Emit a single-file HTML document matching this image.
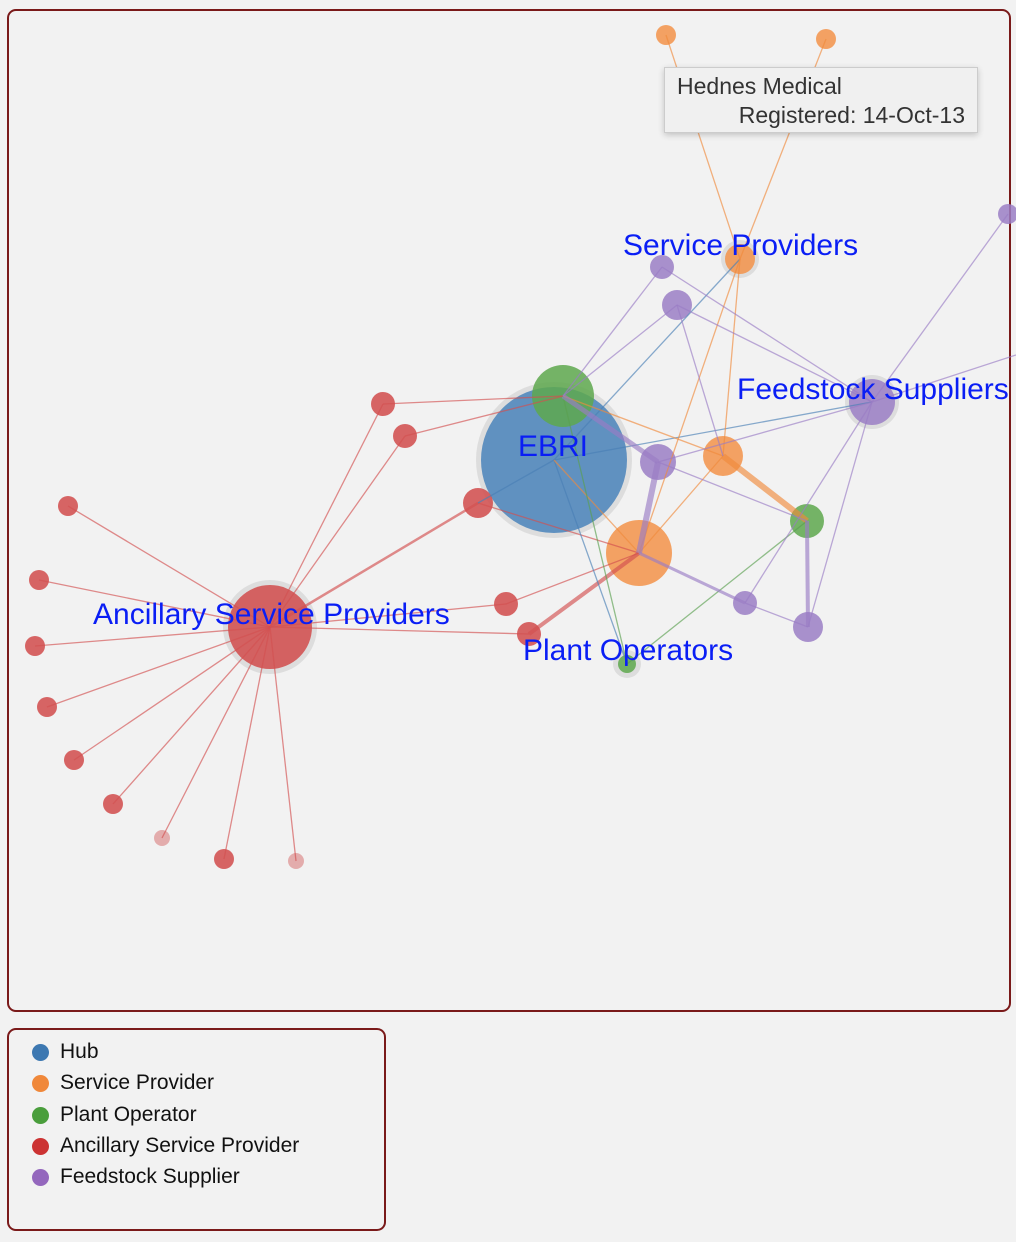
<!DOCTYPE html>
<html><head><meta charset="utf-8"><style>
body{margin:0;background:#f2f2f2;width:1016px;height:1242px;overflow:hidden;font-family:"Liberation Sans",sans-serif}
.box{position:absolute;border:2px solid #7a1a1a;border-radius:9px;box-sizing:border-box}
.tip{position:absolute;left:664px;top:67px;width:314px;height:66px;background:#f0f0f0;border:1px solid #ccc;box-shadow:0 2px 6px rgba(0,0,0,.2);font-size:23px;color:#333;box-sizing:border-box}
.leg{position:absolute;left:32px;font-size:21px;color:#111}
.leg i{position:absolute;left:0;top:3px;width:17px;height:17px;border-radius:50%}
.leg span{position:absolute;left:28px;top:-1px;white-space:nowrap}
</style></head><body>
<div class="box" style="left:7px;top:9px;width:1004px;height:1003px"></div>
<svg width="1016" height="1242" style="position:absolute;left:0;top:0">
<g fill="#ddd"><circle cx="554" cy="460" r="78"/><circle cx="270" cy="627" r="47"/><circle cx="872" cy="402" r="27"/><circle cx="740" cy="259" r="19"/><circle cx="627" cy="664" r="14"/></g>
<g fill-opacity="0.85">
<circle cx="554" cy="460" r="73" fill="#4a84bb"/>
<circle cx="563" cy="396" r="31" fill="#5ea84e"/>
<circle cx="639" cy="553" r="33" fill="#f3934a"/>
<circle cx="723" cy="456" r="20" fill="#f3934a"/>
<circle cx="740" cy="259" r="15" fill="#f3934a"/>
<circle cx="666" cy="35" r="10" fill="#f3934a"/><circle cx="826" cy="39" r="10" fill="#f3934a"/>
<circle cx="807" cy="521" r="17" fill="#5ea84e"/><circle cx="627" cy="664" r="9" fill="#5ea84e"/>
<g fill="#9b7fc6"><circle cx="658" cy="462" r="18"/><circle cx="872" cy="402" r="23"/><circle cx="677" cy="305" r="15"/><circle cx="662" cy="267" r="12"/><circle cx="745" cy="603" r="12"/><circle cx="808" cy="627" r="15"/><circle cx="1008" cy="214" r="10"/></g>
<g fill="#d14b4b"><circle cx="270" cy="627" r="42"/><circle cx="478" cy="503" r="15"/><circle cx="506" cy="604" r="12"/><circle cx="529" cy="634" r="12"/><circle cx="383" cy="404" r="12"/><circle cx="405" cy="436" r="12"/><circle cx="68" cy="506" r="10"/><circle cx="39" cy="580" r="10"/><circle cx="35" cy="646" r="10"/><circle cx="47" cy="707" r="10"/><circle cx="74" cy="760" r="10"/><circle cx="113" cy="804" r="10"/><circle cx="224" cy="859" r="10"/></g>
<g fill="#e0a0a0"><circle cx="162" cy="838" r="8"/><circle cx="296" cy="861" r="8"/></g>
</g>
<g fill="none" stroke-opacity="0.65">
<g stroke="#d35050" stroke-width="1.3">
<line x1="270" y1="627" x2="383" y2="404"/><line x1="270" y1="627" x2="405" y2="436"/><line x1="270" y1="627" x2="68" y2="506"/><line x1="270" y1="627" x2="39" y2="580"/><line x1="270" y1="627" x2="35" y2="646"/><line x1="270" y1="627" x2="47" y2="707"/><line x1="270" y1="627" x2="74" y2="760"/><line x1="270" y1="627" x2="113" y2="804"/><line x1="270" y1="627" x2="162" y2="838"/><line x1="270" y1="627" x2="224" y2="859"/><line x1="270" y1="627" x2="296" y2="861"/>
<line x1="270" y1="627" x2="478" y2="503" stroke-width="2.5"/><line x1="270" y1="627" x2="529" y2="634"/><line x1="270" y1="627" x2="506" y2="604"/>
<line x1="383" y1="404" x2="563" y2="396"/><line x1="405" y1="436" x2="563" y2="396"/><line x1="506" y1="604" x2="639" y2="553"/><line x1="529" y1="634" x2="639" y2="553" stroke-width="4"/><line x1="478" y1="503" x2="639" y2="553"/>
</g>
<g stroke="#4a7fb5" stroke-width="1.3">
<line x1="554" y1="460" x2="740" y2="259"/><line x1="554" y1="460" x2="872" y2="402"/><line x1="554" y1="460" x2="627" y2="664"/><line x1="554" y1="460" x2="478" y2="503"/>
</g>
<g stroke="#f08a3c" stroke-width="1.3">
<line x1="740" y1="259" x2="666" y2="35"/><line x1="740" y1="259" x2="826" y2="39"/><line x1="740" y1="259" x2="639" y2="553"/><line x1="740" y1="259" x2="723" y2="456"/>
<line x1="563" y1="396" x2="723" y2="456"/><line x1="723" y1="456" x2="639" y2="553"/><line x1="723" y1="456" x2="807" y2="521" stroke-width="6"/><line x1="554" y1="460" x2="639" y2="553"/>
</g>
<g stroke="#5aa050" stroke-width="1.3">
<line x1="563" y1="396" x2="627" y2="664"/><line x1="807" y1="521" x2="627" y2="664"/>
</g>
<g stroke="#9a7cc4" stroke-width="1.3">
<line x1="662" y1="267" x2="563" y2="396"/><line x1="677" y1="305" x2="563" y2="396"/><line x1="662" y1="267" x2="872" y2="402"/><line x1="677" y1="305" x2="872" y2="402"/><line x1="677" y1="305" x2="723" y2="456"/>
<line x1="872" y1="402" x2="1008" y2="214"/><line x1="872" y1="402" x2="1016" y2="355"/><line x1="872" y1="402" x2="658" y2="462"/><line x1="872" y1="402" x2="745" y2="603"/><line x1="872" y1="402" x2="808" y2="627"/>
<line x1="563" y1="396" x2="658" y2="462" stroke-width="5"/><line x1="658" y1="462" x2="639" y2="553" stroke-width="6"/><line x1="658" y1="462" x2="807" y2="521"/><line x1="807" y1="521" x2="808" y2="627" stroke-width="4"/><line x1="639" y1="553" x2="745" y2="603" stroke-width="3"/><line x1="745" y1="603" x2="808" y2="627"/>
</g>
</g>
<g fill="#0a1ef5" font-family="Liberation Sans, sans-serif" font-size="30">
<text x="518" y="456">EBRI</text>
<text x="623" y="255">Service Providers</text>
<text x="737" y="399">Feedstock Suppliers</text>
<text x="93" y="624">Ancillary Service Providers</text>
<text x="523" y="660">Plant Operators</text>
</g>
</svg>
<div class="tip"><div style="position:absolute;left:12px;top:5px">Hednes Medical</div><div style="position:absolute;right:12px;top:34px">Registered: 14-Oct-13</div></div>
<div class="box" style="left:7px;top:1028px;width:379px;height:203px"></div>
<div class="leg" style="top:1041px"><i style="background:#3d78b1"></i><span>Hub</span></div>
<div class="leg" style="top:1072px"><i style="background:#f0883a"></i><span>Service Provider</span></div>
<div class="leg" style="top:1104px"><i style="background:#4a9e3c"></i><span>Plant Operator</span></div>
<div class="leg" style="top:1135px"><i style="background:#cc3333"></i><span>Ancillary Service Provider</span></div>
<div class="leg" style="top:1166px"><i style="background:#9467bd"></i><span>Feedstock Supplier</span></div>
</body></html>
